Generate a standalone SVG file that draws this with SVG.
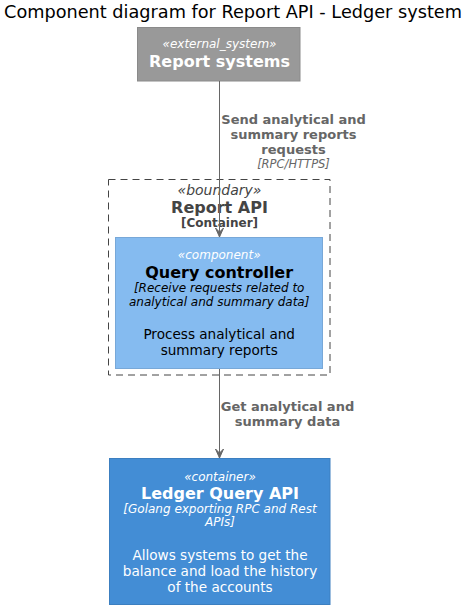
<svg xmlns="http://www.w3.org/2000/svg" width="471" height="610" viewBox="0 0 471 610">
<style>
text{font-family:"DejaVu Sans","Liberation Sans",sans-serif;text-anchor:middle}
.st{font-size:12px;font-style:italic}
.nm{font-size:16px;font-weight:bold}
.tech{font-size:12px;font-style:italic}
.desc{font-size:13.6px}
.w{fill:#FFFFFF}
.k{fill:#000000}
.lbl{font-size:13px;font-weight:bold;fill:#666666}
.lt{font-size:11.5px;font-style:italic;fill:#666666}
.conn{stroke:#666666;stroke-width:1;fill:none}
</style>
<defs>
<marker id="ah" markerWidth="10" markerHeight="10" refX="9" refY="5" orient="auto" markerUnits="userSpaceOnUse">
<polygon points="0,1 9,5 0,9 4,5" fill="#666666" stroke="#666666" stroke-width="1"/>
</marker>
</defs>
<rect width="471" height="610" fill="#FFFFFF"/>
<text x="233" y="18" font-size="17.7" fill="#000000">Component diagram for Report API - Ledger system</text>

<g id="boundary_report_api">
<rect x="108.5" y="179.5" width="221.5" height="195.5" fill="none" stroke="#444444" stroke-width="1" stroke-dasharray="7,5"/>
<text x="219.5" y="195" font-size="14" font-style="italic" fill="#444444">«boundary»</text>
<text x="219.5" y="213" font-size="16" font-weight="bold" fill="#444444">Report API</text>
<text x="219.5" y="226.5" font-size="12" font-weight="bold" fill="#444444">[Container]</text>
</g>

<g id="report_systems">
<rect x="137.5" y="27.5" width="162.5" height="53.5" fill="#999999" stroke="#8A8A8A" stroke-width="1"/>
<text class="st w" x="219.5" y="47.5">«external_system»</text>
<text class="nm w" x="219.5" y="66.7">Report systems</text>
</g>

<g id="query_controller">
<rect x="115.5" y="237.5" width="207" height="131" fill="#85BBF0" stroke="#78A8D8" stroke-width="1"/>
<text class="st w" x="219.2" y="259">«component»</text>
<text class="nm k" x="219.2" y="277.5">Query controller</text>
<text class="tech k" x="219.2" y="292.3">[Receive requests related to</text>
<text class="tech k" x="219.2" y="305.8">analytical and summary data]</text>
<text class="desc k" x="219.2" y="339">Process analytical and</text>
<text class="desc k" x="219.2" y="354.5">summary reports</text>
</g>

<g id="ledger_query_api">
<rect x="109.5" y="458.5" width="220.5" height="146" fill="#438DD5" stroke="#3C7FC0" stroke-width="1"/>
<text class="st w" x="220" y="480.7">«container»</text>
<text class="nm w" x="220" y="498.5">Ledger Query API</text>
<text class="tech w" x="220" y="512.5">[Golang exporting RPC and Rest</text>
<text class="tech w" x="220" y="526">APIs]</text>
<text class="desc w" x="220" y="560">Allows systems to get the</text>
<text class="desc w" x="220" y="575.7">balance and load the history</text>
<text class="desc w" x="220" y="591.5">of the accounts</text>
</g>

<g id="connectors">
<line class="conn" x1="219.5" y1="81" x2="219.5" y2="237" marker-end="url(#ah)"/>
<text class="lbl" x="293.5" y="124">Send analytical and</text>
<text class="lbl" x="293.5" y="139">summary reports</text>
<text class="lbl" x="293.5" y="154">requests</text>
<text class="lt" x="293.5" y="168">[RPC/HTTPS]</text>
<line class="conn" x1="219.5" y1="369" x2="219.5" y2="458" marker-end="url(#ah)"/>
<text class="lbl" x="287.5" y="411">Get analytical and</text>
<text class="lbl" x="287.5" y="425.5">summary data</text>
</g>
</svg>
